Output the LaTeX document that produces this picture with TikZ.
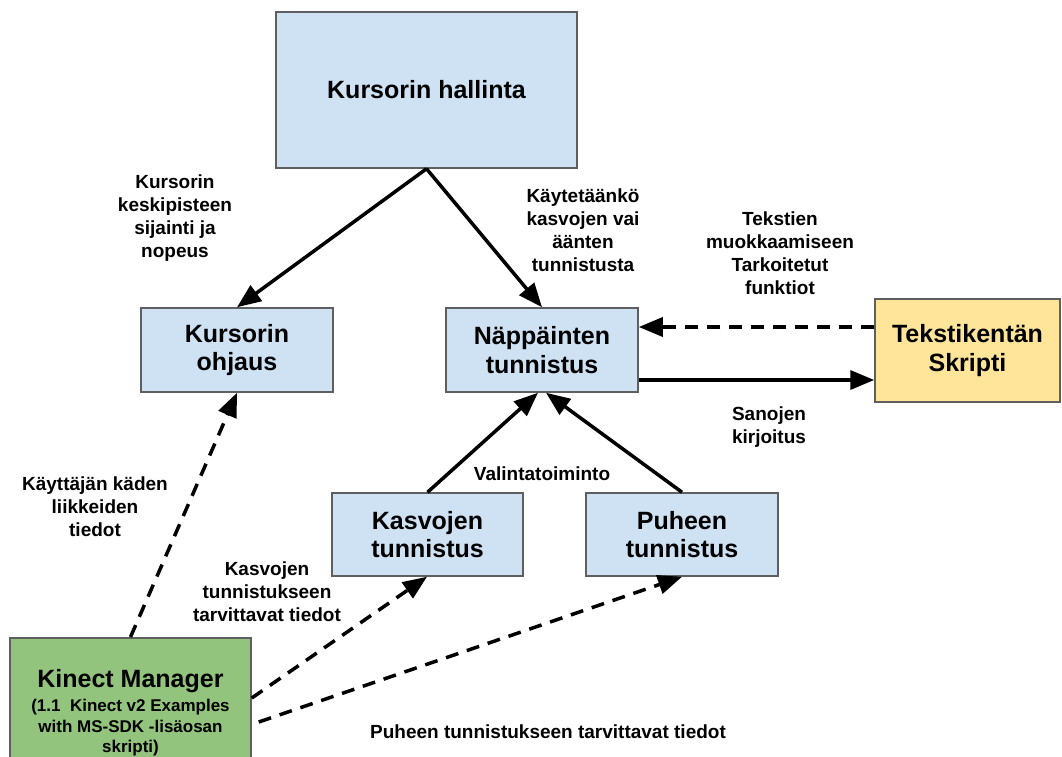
\documentclass[tikz,border=0pt]{standalone}
\usepackage{fontspec}
\setmainfont{Liberation Sans}
\usetikzlibrary{arrows.meta,calc}
\definecolor{boxblue}{HTML}{CFE2F3}
\definecolor{boxyellow}{HTML}{FFE599}
\definecolor{boxgreen}{HTML}{93C47D}
\definecolor{boxline}{HTML}{5F5F5F}
\begin{document}
\begin{tikzpicture}[x=1pt,y=-1pt,
  box/.style={draw=boxline, line width=1.5pt, fill=boxblue, align=center, inner sep=0pt,
    font=\fontsize{25}{28.5}\selectfont\bfseries},
  lbl/.style={align=center, inner sep=0pt, font=\fontsize{19}{23}\selectfont\bfseries},
  link/.style={line width=3.5pt, -{Triangle[length=24pt,width=19pt]}},
  dlink/.style={link, dash pattern=on 13pt off 9pt},
]
\useasboundingbox (0,0) rectangle (1062,757);

% boxes
\node[box, minimum width=301pt, minimum height=156pt] (hallinta) at (426.5,90) {Kursorin hallinta};
\node[box, minimum width=192pt, minimum height=84pt] (ohjaus) at (237,350) {Kursorin\\ohjaus};
\node[box, minimum width=192pt, minimum height=84pt] (nappain) at (542,350) {Näppäinten\\tunnistus};
\node[box, fill=boxyellow, minimum width=185pt, minimum height=103pt] (teksti) at (967.5,350.5) {Tekstikentän\\Skripti};
\node[box, minimum width=191pt, minimum height=83pt] (kasvot) at (427.5,534.5) {Kasvojen\\tunnistus};
\node[box, minimum width=192pt, minimum height=83pt] (puhe) at (682,534.5) {Puheen\\tunnistus};
\node[box, fill=boxgreen, minimum width=241pt, minimum height=140pt, anchor=north] (kinect) at (130.5,637) {};
\node[inner sep=0pt, font=\fontsize{25}{28}\selectfont\bfseries] (kinecttitle) at (130.5,681) {Kinect Manager};
\node[align=center, inner sep=0pt, font=\fontsize{17}{20.5}\selectfont\bfseries] (kinectsub) at (130.5,728)
  {(1.1\ \ Kinect v2 Examples\\with MS-SDK -lisäosan\\skripti)};

% labels
\node[lbl] (l1) at (175,218) {Kursorin\\keskipisteen\\sijainti ja\\nopeus};
\node[lbl] (l2) at (583,230) {Käytetäänkö\\kasvojen vai\\äänten\\tunnistusta};
\node[lbl] (l3) at (780,253) {Tekstien\\muokkaamiseen\\Tarkoitetut\\funktiot};
\node[lbl] (l4) at (769,427) {Sanojen\\kirjoitus};
\node[lbl] (l5) at (542,474) {Valintatoiminto};
\node[lbl] (l6) at (95,507) {Käyttäjän käden\\liikkeiden\\tiedot};
\node[lbl] (l7) at (267,592) {Kasvojen\\tunnistukseen\\tarvittavat tiedot};
\node[lbl] (l8) at (548,732) {Puheen tunnistukseen tarvittavat tiedot};

% connectors
\draw[link] (hallinta.south) -- (ohjaus.north);
\draw[link] (hallinta.south) -- (nappain.north);
\draw[dlink] ($(teksti.west)+(0,-23.5)$) -- ($(nappain.east)+(0,-23)$);
\draw[link] ($(nappain.east)+(0,30)$) -- ($(teksti.west)+(0,29.5)$);
\draw[link] (kasvot.north) -- ($(nappain.south)+(-4,0)$);
\draw[link] (puhe.north) -- ($(nappain.south)+(4,0)$);
\draw[dlink] (kinect.north) -- (ohjaus.south);
\coordinate (kout1) at ($(kinect.north east)+(0,61)$);
\coordinate (kout2) at ($(kinect.north east)+(7,85)$);
\draw[dlink] (kout1) -- ($(kasvot.south)+(-0.5,0)$);
\draw[dlink] (kout2) -- (puhe.south);
\end{tikzpicture}
\end{document}
